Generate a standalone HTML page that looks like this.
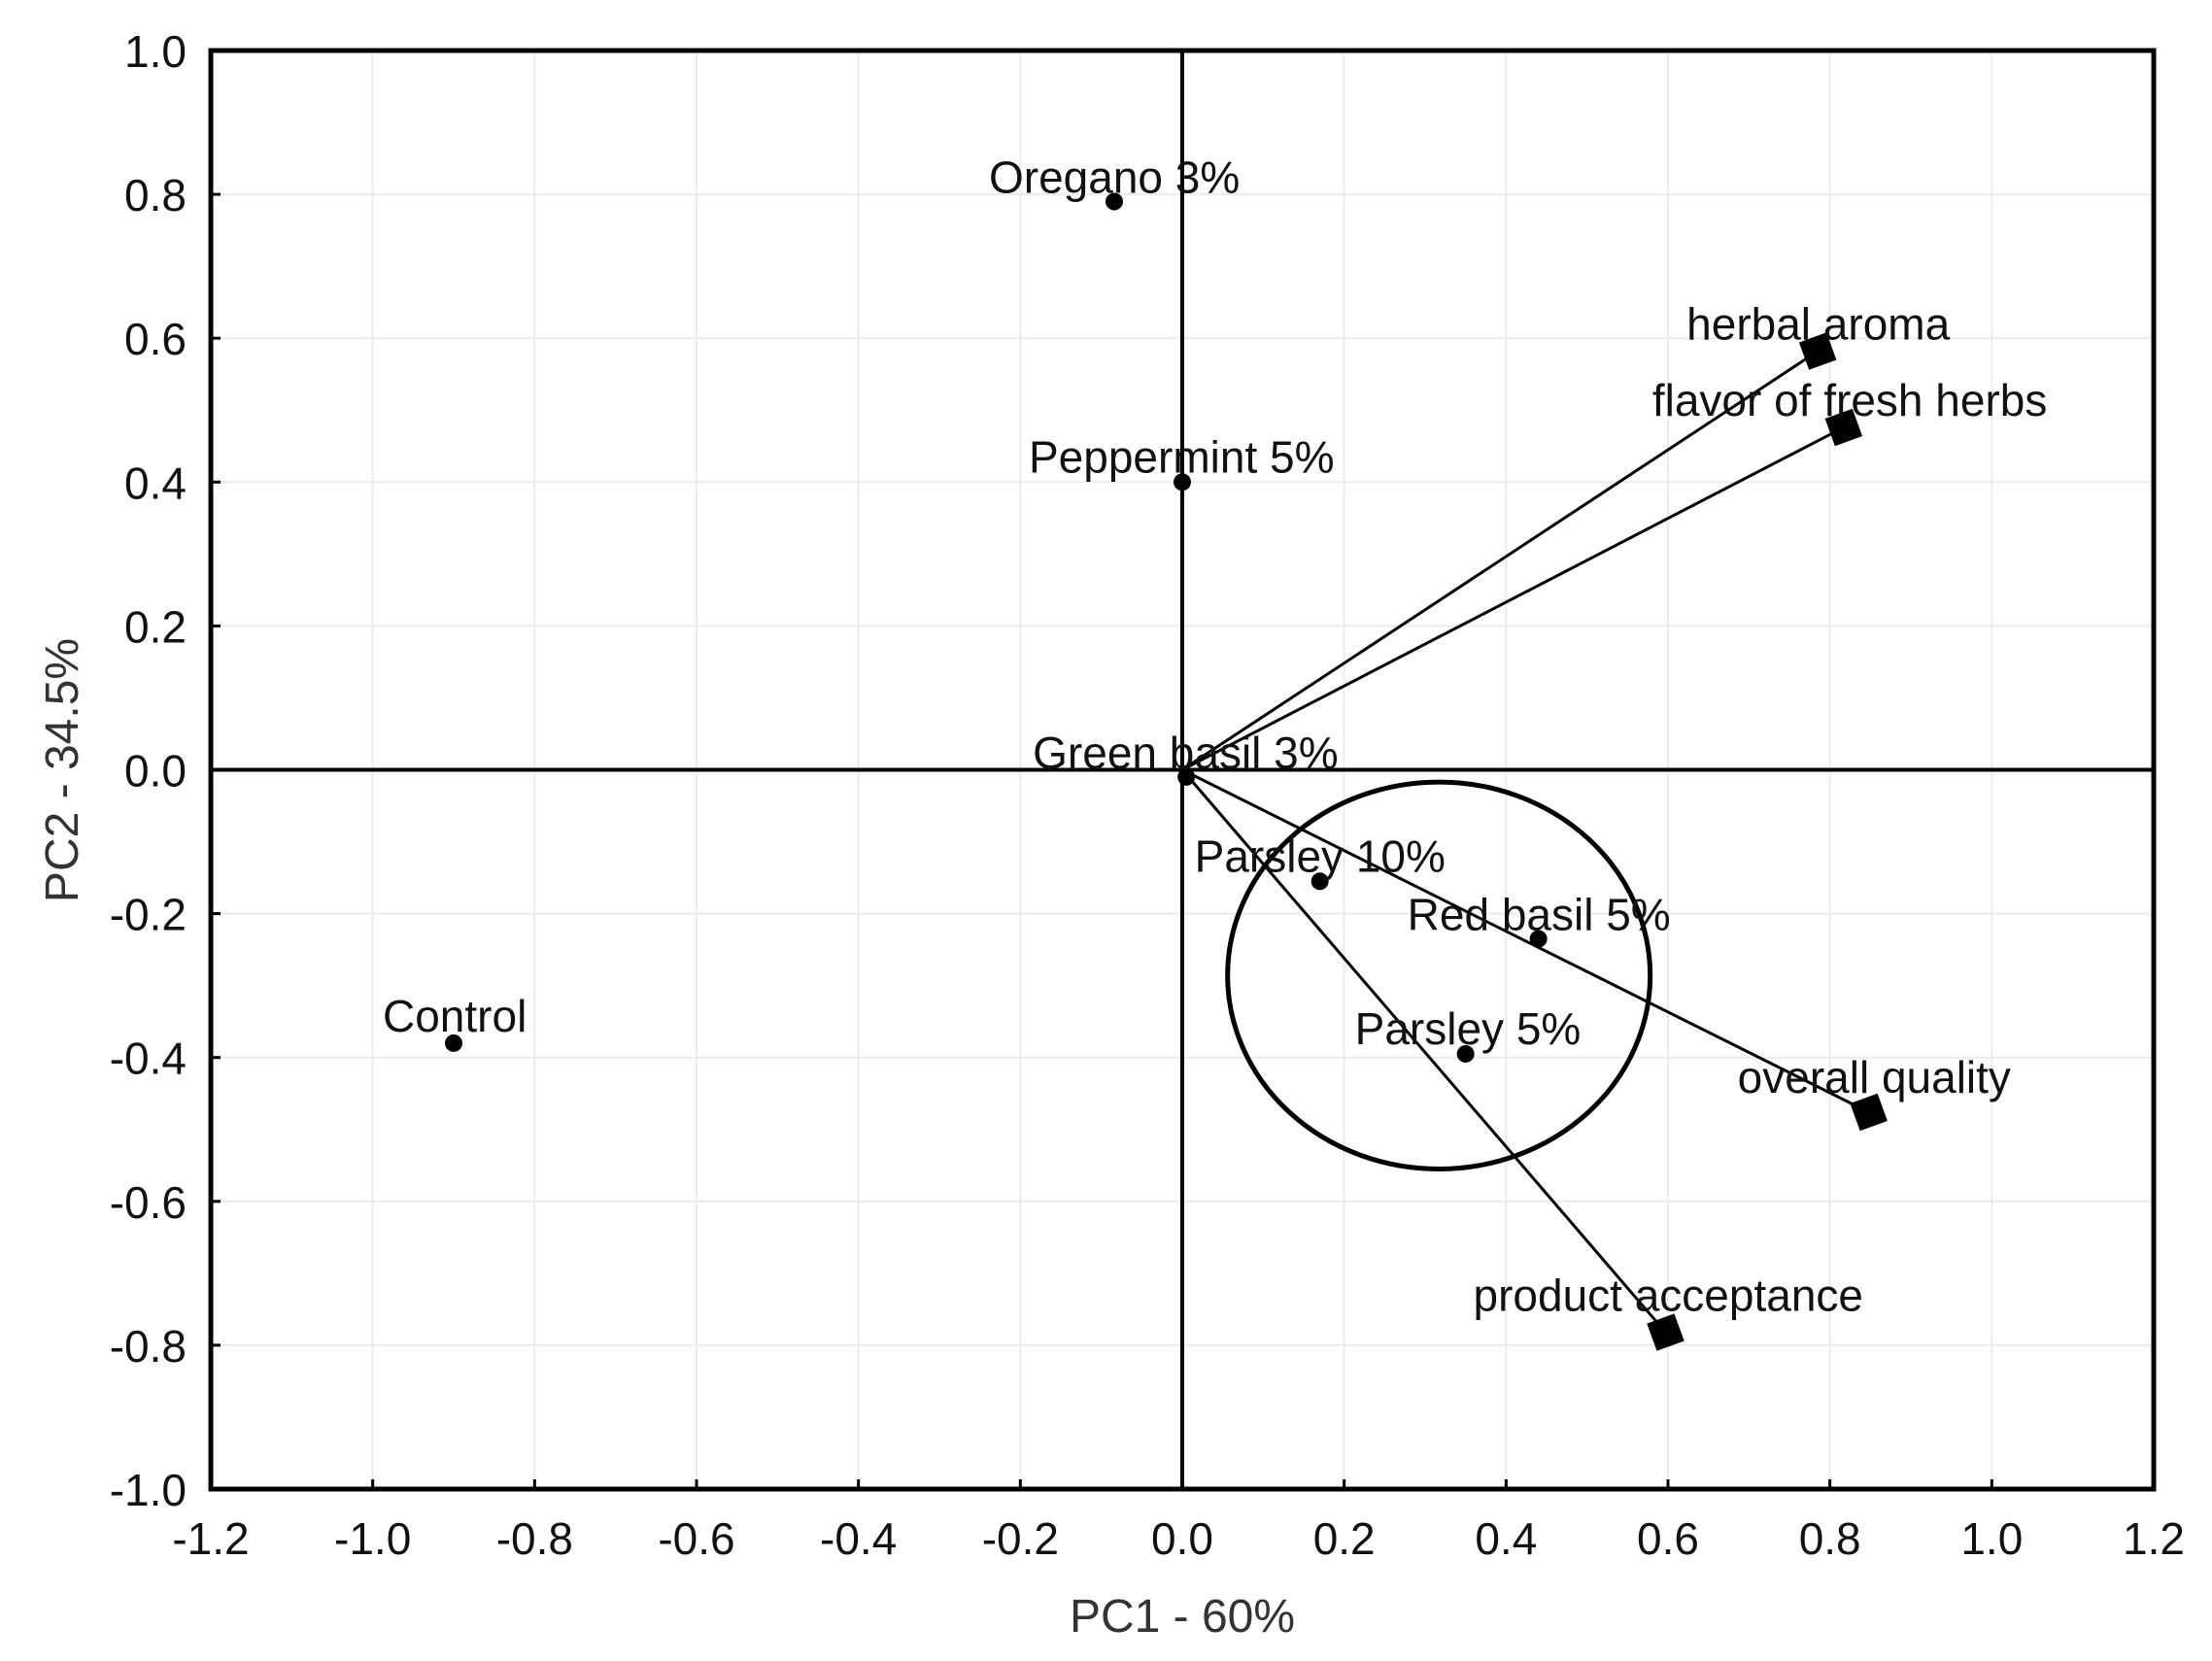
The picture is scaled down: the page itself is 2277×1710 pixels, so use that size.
<!DOCTYPE html>
<html><head><meta charset="utf-8"><style>
html,body{margin:0;padding:0;background:#fff;}
svg{display:block;font-family:"Liberation Sans",Arial,sans-serif;}
</style></head><body>
<svg id="chart" width="2277" height="1710" viewBox="0 0 2277 1710"></svg>
<script>
const xTicks=[-1.2,-1.0,-0.8,-0.6,-0.4,-0.2,0.0,0.2,0.4,0.6,0.8,1.0,1.2];
const yTicks=[-1.0,-0.8,-0.6,-0.4,-0.2,0.0,0.2,0.4,0.6,0.8,1.0];
const sampleNames=["Oregano 3%","Peppermint 5%","Green basil 3%","Parsley 10%","Red basil 5%","Parsley 5%","Control"];
const sampleX=[-0.084,0.0,0.005,0.17,0.44,0.35,-0.9];
const sampleY=[0.79,0.40,-0.01,-0.155,-0.235,-0.395,-0.38];
const varNames=["herbal aroma","flavor of fresh herbs","overall quality","product acceptance"];
const varX=[0.785,0.817,0.848,0.597];
const varY=[0.582,0.476,-0.476,-0.782];
const circleCenter=[0.317,-0.286];
const circleRadius=[0.261,0.269];

const L=217,R=2217,T=52,B=1533;
const sx=v=>L+(v+1.2)/2.4*(R-L);
const sy=v=>B-(v+1)/2*(B-T);
const NS="http://www.w3.org/2000/svg";
const svg=document.getElementById('chart');
function mk(tag,attrs,parent){const e=document.createElementNS(NS,tag);for(const k in attrs)e.setAttribute(k,attrs[k]);(parent||svg).appendChild(e);return e;}

xTicks.forEach((t,i)=>{
 const g=mk('line',{x1:sx(t),x2:sx(t),y1:T,y2:B,stroke:'#ececec','stroke-width':2});
 
 
 const tk=mk('line',{x1:sx(t),x2:sx(t),y1:B,y2:B-10,stroke:'#000','stroke-width':3});
 
 
 const tx=mk('text',{x:sx(t),y:1600,'text-anchor':'middle','font-size':46,fill:'#111'});
 tx.textContent=t.toFixed(1);
 
 
});
yTicks.forEach(t=>{
 const g=mk('line',{x1:L,x2:R,y1:sy(t),y2:sy(t),stroke:'#ececec','stroke-width':2});
 
 
 const tk=mk('line',{x1:L,x2:L+10,y1:sy(t),y2:sy(t),stroke:'#000','stroke-width':3});
 
 
 const tx=mk('text',{x:192,y:sy(t)+17,'text-anchor':'end','font-size':46,fill:'#111'});
 tx.textContent=t.toFixed(1);
 
 
});
const zx=mk('line',{x1:sx(0),x2:sx(0),y1:T,y2:B,stroke:'#000','stroke-width':4});


const zy=mk('line',{x1:L,x2:R,y1:sy(0),y2:sy(0),stroke:'#000','stroke-width':4});


const fr=mk('rect',{x:L,y:T,width:R-L,height:B-T,fill:'none',stroke:'#000','stroke-width':5});


const cx=sx(circleCenter[0]),cy=sy(circleCenter[1]);
const el=mk('ellipse',{cx:cx,cy:cy,rx:circleRadius[0]/2.4*(R-L),ry:circleRadius[1]/2*(B-T),fill:'none',stroke:'#000','stroke-width':5});


const varOff=[[-135,-12],[-197,-12],[-135,-20],[-198,-22]];
varNames.forEach((n,i)=>{
 const x=sx(varX[i]),y=sy(varY[i]);
 const ln=mk('line',{x1:sx(0),y1:sy(0),x2:x,y2:y,stroke:'#000','stroke-width':3});
 
 
 const sq=mk('rect',{x:x-15,y:y-15,width:30,height:30,fill:'#000',transform:`rotate(-20 ${x} ${y})`});
 
 
 const tx=mk('text',{x:x+varOff[i][0],y:y+varOff[i][1],'font-size':46,fill:'#111'});
 tx.textContent=n;
 
 
});
const sOff=[[-129,-9],[-158,-10],[-158,-9],[-129,-10],[-135,-9],[-114,-10],[-73,-12]];
sampleNames.forEach((n,i)=>{
 const x=sx(sampleX[i]),y=sy(sampleY[i]);
 const c=mk('circle',{cx:x,cy:y,r:9,fill:'#000'});
 
 
 const tx=mk('text',{x:x+sOff[i][0],y:y+sOff[i][1],'font-size':46,fill:'#111'});
 tx.textContent=n;
 
 
});
const xt=mk('text',{x:1217,y:1680,'text-anchor':'middle','font-size':48,fill:'#333'});
xt.textContent='PC1 - 60%';


const yt=mk('text',{x:0,y:0,'text-anchor':'middle','font-size':48,fill:'#333',transform:'translate(80 793) rotate(-90)'});
yt.textContent='PC2 - 34.5%';


</script>
</body></html>
